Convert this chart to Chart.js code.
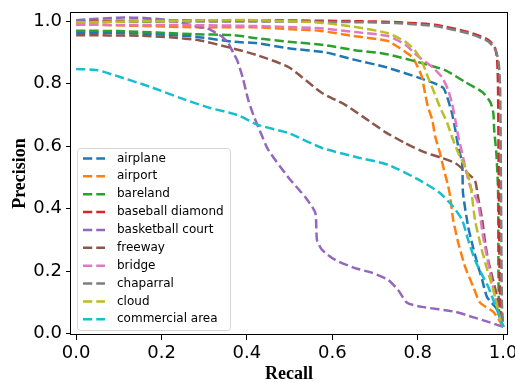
<!DOCTYPE html>
<html>
<head>
<meta charset="utf-8">
<script src="https://cdn.jsdelivr.net/npm/chart.js@4.4.0/dist/chart.umd.min.js"></script>
<style>
  body { margin: 0; background: #fff; }
  canvas { display: block; }
</style>
</head>
<body>
<canvas id="myChart" width="515" height="383"></canvas>
<script>
"use strict";

// class names + colours (tab10)
const labels = ['airplane', 'airport', 'bareland', 'baseball diamond', 'basketball court',
  'freeway', 'bridge', 'chaparral', 'cloud', 'commercial area'];
const colors = ['#1f77b4', '#ff7f0e', '#2ca02c', '#d62728', '#9467bd',
  '#8c564b', '#e377c2', '#7f7f7f', '#bcbd22', '#17becf'];

// recall / precision
const airplane_r = [0, 0.1, 0.2, 0.279, 0.368, 0.424, 0.497, 0.583, 0.653, 0.724, 0.80, 0.841, 0.86, 0.869, 0.88, 0.888, 0.895, 0.904, 0.906, 0.918, 0.927, 0.939, 0.951, 0.962, 0.986, 1.0];
const airplane_p = [0.963, 0.962, 0.957, 0.95, 0.934, 0.929, 0.913, 0.9, 0.876, 0.853, 0.82, 0.80, 0.786, 0.757, 0.706, 0.652, 0.597, 0.546, 0.45, 0.342, 0.29, 0.227, 0.172, 0.118, 0.077, 0.022];

const airport_r = [0, 0.28, 0.42, 0.5, 0.57, 0.65, 0.728, 0.754, 0.787, 0.80, 0.81, 0.817, 0.824, 0.834, 0.841, 0.852, 0.862, 0.87, 0.876, 0.883, 0.895, 0.911, 0.93, 0.946, 0.977, 1.0];
const airport_p = [0.99, 0.98, 0.98, 0.974, 0.969, 0.952, 0.937, 0.917, 0.885, 0.853, 0.82, 0.77, 0.725, 0.684, 0.63, 0.578, 0.52, 0.48, 0.438, 0.364, 0.29, 0.214, 0.15, 0.099, 0.07, 0.022];

const bareland_r = [0, 0.1, 0.279, 0.368, 0.424, 0.497, 0.583, 0.653, 0.724, 0.80, 0.864, 0.911, 0.951, 0.97, 0.977, 0.979, 0.984, 0.988, 0.989, 0.991, 1.0];
const bareland_p = [0.969, 0.968, 0.958, 0.955, 0.945, 0.934, 0.923, 0.907, 0.895, 0.869, 0.843, 0.805, 0.773, 0.741, 0.706, 0.652, 0.578, 0.46, 0.2, 0.06, 0.022];

const baseball_r = [0, 0.4, 0.72, 0.84, 0.918, 0.965, 0.981, 0.986, 0.988, 0.99, 0.993, 1.0];
const baseball_p = [1.0, 1.003, 0.998, 0.988, 0.965, 0.94, 0.914, 0.875, 0.79, 0.45, 0.1, 0.022];

const basketball_r = [0, 0.1, 0.16, 0.22, 0.26, 0.29, 0.31, 0.342, 0.356, 0.368, 0.377, 0.39, 0.403, 0.415, 0.43, 0.45, 0.497, 0.536, 0.56, 0.564, 0.576, 0.607, 0.653, 0.693, 0.731, 0.754, 0.775, 0.81, 0.888, 0.927, 0.965, 1.0];
const basketball_p = [1.003, 1.011, 1.01, 1.003, 0.99, 0.98, 0.975, 0.95, 0.93, 0.898, 0.875, 0.82, 0.748, 0.70, 0.65, 0.588, 0.50, 0.438, 0.387, 0.30, 0.268, 0.236, 0.21, 0.195, 0.172, 0.14, 0.099, 0.086, 0.07, 0.054, 0.038, 0.022];

const freeway_r = [0, 0.15, 0.22, 0.29, 0.36, 0.424, 0.497, 0.576, 0.63, 0.693, 0.724, 0.77, 0.817, 0.857, 0.888, 0.916, 0.934, 0.941, 0.951, 0.958, 0.965, 0.986, 1.0];
const freeway_p = [0.955, 0.953, 0.948, 0.938, 0.915, 0.891, 0.853, 0.77, 0.732, 0.674, 0.645, 0.61, 0.58, 0.562, 0.546, 0.514, 0.49, 0.438, 0.364, 0.29, 0.235, 0.118, 0.022];

const bridge_r = [0, 0.28, 0.42, 0.571, 0.653, 0.73, 0.77, 0.80, 0.834, 0.857, 0.871, 0.88, 0.888, 0.895, 0.904, 0.911, 0.923, 0.941, 0.953, 0.965, 0.974, 0.993, 1.0];
const bridge_p = [0.988, 0.987, 0.984, 0.977, 0.965, 0.952, 0.925, 0.888, 0.853, 0.82, 0.78, 0.738, 0.684, 0.63, 0.578, 0.534, 0.47, 0.419, 0.31, 0.227, 0.163, 0.045, 0.022];

const chaparral_r = [0, 0.4, 0.72, 0.84, 0.92, 0.965, 0.983, 0.99, 0.993, 0.995, 0.997, 1.0];
const chaparral_p = [0.997, 0.999, 0.995, 0.984, 0.96, 0.935, 0.905, 0.86, 0.78, 0.45, 0.1, 0.022];

const cloud_r = [0, 0.1, 0.28, 0.42, 0.571, 0.65, 0.728, 0.77, 0.794, 0.81, 0.824, 0.836, 0.852, 0.869, 0.88, 0.895, 0.911, 0.923, 0.934, 0.946, 0.958, 0.97, 0.977, 0.993, 1.0];
const cloud_p = [0.996, 0.998, 1.002, 1.003, 0.995, 0.982, 0.962, 0.935, 0.905, 0.87, 0.82, 0.78, 0.725, 0.674, 0.63, 0.578, 0.534, 0.48, 0.364, 0.29, 0.227, 0.172, 0.14, 0.045, 0.022];

const commercial_r = [0, 0.05, 0.103, 0.173, 0.25, 0.314, 0.377, 0.426, 0.497, 0.576, 0.653, 0.731, 0.806, 0.852, 0.883, 0.904, 0.918, 0.934, 0.953, 0.965, 0.988, 1.0];
const commercial_p = [0.847, 0.843, 0.821, 0.79, 0.751, 0.722, 0.70, 0.668, 0.642, 0.594, 0.566, 0.54, 0.49, 0.45, 0.406, 0.364, 0.30, 0.236, 0.182, 0.15, 0.067, 0.022];

const x_ticks = [0, 0.2, 0.4, 0.6, 0.8, 1.0];
const y_ticks = [0, 0.2, 0.4, 0.6, 0.8, 1.0];

const recalls = [airplane_r, airport_r, bareland_r, baseball_r, basketball_r,
  freeway_r, bridge_r, chaparral_r, cloud_r, commercial_r];
const precisions = [airplane_p, airport_p, bareland_p, baseball_p, basketball_p,
  freeway_p, bridge_p, chaparral_p, cloud_p, commercial_p];

const dash = [9.25, 4];

// box around the plot (matplotlib spines)
const frame_plugin = {
  id: 'frame',
  afterDatasetsDraw(chart) {
    const ctx = chart.ctx;
    const a = chart.chartArea;
    ctx.save();
    ctx.strokeStyle = '#000';
    ctx.lineWidth = 1;
    ctx.strokeRect(Math.round(a.left) - 0.5, Math.round(a.top) + 0.5,
      Math.round(a.right - a.left) + 1, Math.round(a.bottom - a.top) - 1);
    ctx.restore();
  }
};

// legend inside the axes, lower left
const legend_plugin = {
  id: 'box_legend',
  afterDraw(chart) {
    const ctx = chart.ctx;
    const a = chart.chartArea;
    const x0 = a.left + 6;
    const y1 = a.bottom - 5;
    const w = 153, h = 182;
    const y0 = y1 - h;
    ctx.save();
    ctx.beginPath();
    ctx.roundRect(x0 + 0.5, y0 + 0.5, w, h, 3);
    ctx.fillStyle = 'rgba(255,255,255,0.8)';
    ctx.fill();
    ctx.strokeStyle = '#d6d6d6';
    ctx.lineWidth = 1;
    ctx.stroke();

    ctx.font = '12px "DejaVu Sans"';
    ctx.textBaseline = 'middle';
    ctx.textAlign = 'left';
    labels.forEach((name, i) => {
      const y = y0 + 10.5 + i * 17.86;
      ctx.beginPath();
      ctx.setLineDash(dash);
      ctx.strokeStyle = colors[i];
      ctx.lineWidth = 2.5;
      ctx.moveTo(x0 + 6, y);
      ctx.lineTo(x0 + 28, y);
      ctx.stroke();
      ctx.setLineDash([]);
      ctx.fillStyle = '#000';
      ctx.fillText(name, x0 + 40, y);
    });
    ctx.restore();
  }
};

function pr_chart() {
  const datasets = labels.map((name, i) => ({
    label: name,
    data: recalls[i].map((r, k) => ({ x: r, y: precisions[i][k] })),
    borderColor: colors[i],
    backgroundColor: colors[i],
    borderWidth: 2.5,
    borderDash: dash,
    pointRadius: 0,
    tension: 0.2,
    fill: false,
    order: labels.length - i,  // later classes drawn on top
  }));

  const tick_font = { family: 'DejaVu Sans', size: 18 };
  const title_font = { family: 'Liberation Serif', size: 18, weight: 'bold', lineHeight: 1 };

  const config = {
    type: 'line',
    data: { datasets },
    options: {
      responsive: false,
      animation: false,
      devicePixelRatio: 1,
      layout: { padding: { top: 12, right: 8, left: 0, bottom: 0 } },
      plugins: { legend: { display: false }, tooltip: { enabled: false } },
      scales: {
        x: {
          type: 'linear',
          min: -0.012,
          max: 1.009,
          afterBuildTicks: (s) => { s.ticks = x_ticks.map(v => ({ value: v })); },
          afterFit: (s) => { s.height = 48; s.paddingLeft = 0; s.paddingRight = 0; },
          ticks: { font: tick_font, color: '#000', padding: 3, maxRotation: 0,
            callback: (v) => v.toFixed(1) },
          grid: { drawOnChartArea: false, drawTicks: true, tickLength: 5, color: '#000' },
          border: { display: false },
          title: { display: true, text: 'Recall', font: title_font, color: '#000',
            padding: { top: 0, bottom: 0 } }
        },
        y: {
          type: 'linear',
          min: -0.004,
          max: 1.029,
          afterBuildTicks: (s) => { s.ticks = y_ticks.map(v => ({ value: v })); },
          afterFit: (s) => { s.width = 71; s.paddingTop = 0; s.paddingBottom = 0; },
          ticks: { font: tick_font, color: '#000', padding: 4,
            callback: (v) => v.toFixed(1) },
          grid: { drawOnChartArea: false, drawTicks: true, tickLength: 5, color: '#000' },
          border: { display: false },
          title: { display: true, text: 'Precision', font: title_font, color: '#000',
            padding: { top: 11, bottom: 0 } }
        }
      }
    },
    plugins: [frame_plugin, legend_plugin]
  };

  const myChart = new Chart(document.getElementById('myChart'), config);
}

pr_chart();
</script>
</body>
</html>
